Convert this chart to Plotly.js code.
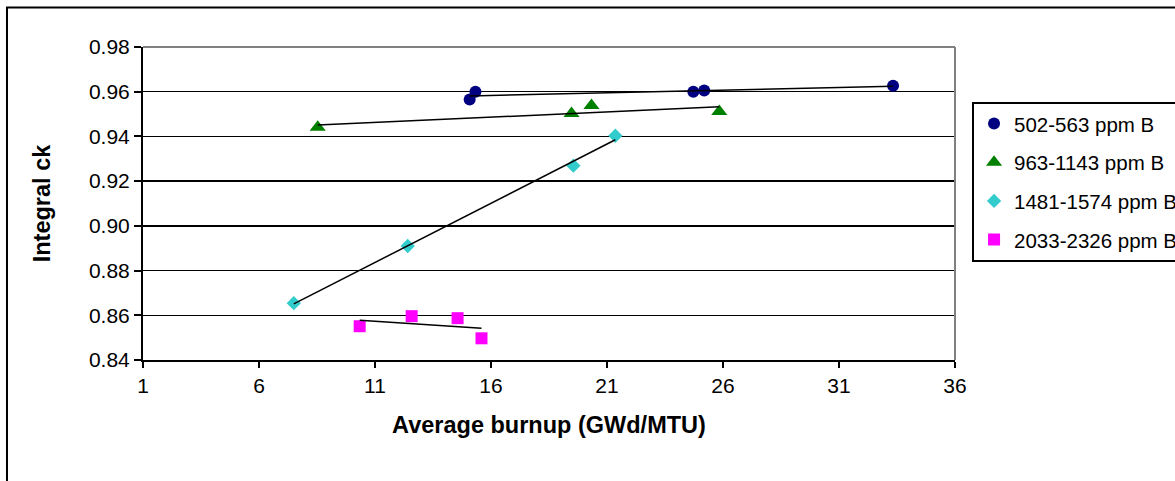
<!DOCTYPE html>
<html>
<head>
<meta charset="utf-8">
<script src="https://cdn.plot.ly/plotly-3.0.1.min.js"></script>
<style>
  html, body { margin: 0; padding: 0; background: #fff; }
  #chart { width: 1175px; height: 481px; }
</style>
</head>
<body>
<div id="chart"></div>
<script>
// ---- data ----
var seriesNames = ["502-563 ppm B", "963-1143 ppm B", "1481-1574 ppm B", "2033-2326 ppm B"];

var burnupA = [15.08, 15.33, 24.72, 25.19, 33.33];
var ckA     = [0.9565, 0.9600, 0.9600, 0.9605, 0.9627];

var burnupB = [8.53, 19.47, 20.33, 25.84];
var ckB     = [0.9441, 0.9502, 0.9538, 0.9511];

var burnupC = [7.50, 12.41, 19.55, 21.36];
var ckC     = [0.8654, 0.8910, 0.9269, 0.9403];

var burnupD = [10.34, 12.58, 14.56, 15.59];
var ckD     = [0.8551, 0.8596, 0.8587, 0.8497];

var xTickVals = [1, 6, 11, 16, 21, 26, 31, 36];
var yTickVals = [0.84, 0.86, 0.88, 0.90, 0.92, 0.94, 0.96, 0.98];

// ---- styles ----
var colors  = ["#000080", "#008000", "#33CCCC", "#FF00FF"];
var symbols = ["circle", "triangle-up", "diamond", "square"];
var sizes   = [12, 14, 11, 12];
var FONT = "Liberation Sans, Arial, sans-serif";

var xs = [burnupA, burnupB, burnupC, burnupD];
var ys = [ckA, ckB, ckC, ckD];

// least-squares linear trendline between min and max x
function trend(x, y) {
  var n = x.length, mx = 0, my = 0;
  for (var i = 0; i < n; i++) { mx += x[i]; my += y[i]; }
  mx /= n; my /= n;
  var sxy = 0, sxx = 0;
  for (var j = 0; j < n; j++) { sxy += (x[j]-mx)*(y[j]-my); sxx += (x[j]-mx)*(x[j]-mx); }
  var b = sxy / sxx, a = my - b*mx;
  var x0 = Math.min.apply(null, x), x1 = Math.max.apply(null, x);
  return {x: [x0, x1], y: [a + b*x0, a + b*x1]};
}

var traces = [];
for (var k = 0; k < 4; k++) {
  traces.push({
    type: "scatter", mode: "markers", name: seriesNames[k],
    x: xs[k], y: ys[k],
    legendgroup: "g" + k,
    marker: {color: colors[k], symbol: symbols[k], size: sizes[k], line: {width: 0}},
    cliponaxis: false
  });
}
for (var m = 0; m < 4; m++) {
  var t = trend(xs[m], ys[m]);
  traces.push({
    type: "scatter", mode: "lines", x: t.x, y: t.y,
    showlegend: false, hoverinfo: "skip", legendgroup: "g" + m,
    line: {color: "#000", width: 1.5}
  });
}

var layout = {
  width: 1175, height: 481,
  margin: {l: 143, r: 220, t: 47, b: 121, autoexpand: false},
  paper_bgcolor: "#fff", plot_bgcolor: "#fff",
  font: {family: FONT, color: "#000", size: 21},
  showlegend: true,
  xaxis: {
    range: [1, 36], tickvals: xTickVals, ticktext: xTickVals.map(String),
    showgrid: false, zeroline: false,
    showline: true, linecolor: "#000", linewidth: 2,
    ticks: "outside", ticklen: 6, tickwidth: 2, tickcolor: "#000",
    tickfont: {family: FONT, size: 21, color: "#000"},
    title: {text: "<b>Average burnup (GWd/MTU)</b>", font: {family: FONT, size: 23.5, color: "#000"}, standoff: 20}
  },
  yaxis: {
    range: [0.84, 0.98], tickvals: yTickVals, ticktext: yTickVals.map(function(v){return v.toFixed(2);}),
    showgrid: true, gridcolor: "#000", gridwidth: 1.4, zeroline: false,
    showline: true, linecolor: "#000", linewidth: 2,
    ticks: "outside", ticklen: 7, tickwidth: 2, tickcolor: "#000",
    tickfont: {family: FONT, size: 21, color: "#000"},
    title: {text: "<b>Integral ck</b>", font: {family: FONT, size: 23.5, color: "#000"}, standoff: 32}
  },
  legend: {
    x: 1.021, y: 0.825, xanchor: "left", yanchor: "top",
    bordercolor: "#000", borderwidth: 2, bgcolor: "#fff",
    font: {family: FONT, size: 20.5, color: "#000"},
    traceorder: "grouped", tracegroupgap: 9, itemwidth: 30
  },
  shapes: [
    {type: "line", xref: "paper", yref: "paper", x0: 0, x1: 1, y0: 1, y1: 1, line: {color: "#808080", width: 2}, layer: "above"},
    {type: "line", xref: "paper", yref: "paper", x0: 1, x1: 1, y0: 0, y1: 1, line: {color: "#808080", width: 2}, layer: "above"},
    {type: "rect", xref: "paper", yref: "paper", x0: -0.1675, x1: 1.6, y0: -0.6, y1: 1.1262, line: {color: "#000", width: 2}, layer: "below"}
  ]
};

Plotly.newPlot("chart", traces, layout, {staticPlot: true, displayModeBar: false});
</script>
</body>
</html>
